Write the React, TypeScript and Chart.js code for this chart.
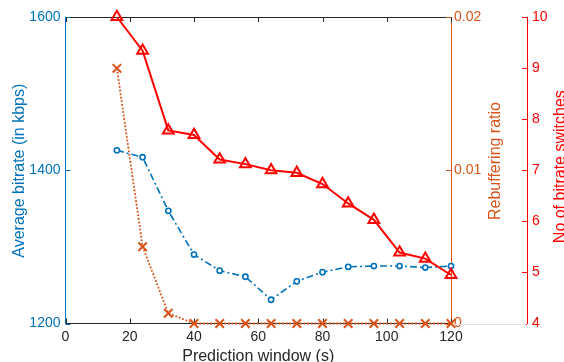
import React, { useEffect, useRef } from "react";
import { Chart, registerables } from "chart.js";

Chart.register(...registerables);

const windows = [16, 24, 32, 40, 48, 56, 64, 72, 80, 88, 96, 104, 112, 120];
const avgBitrate = [1426, 1417, 1347, 1290, 1269, 1261, 1231, 1255, 1267, 1274, 1275, 1275, 1273, 1275];
const rebufRatio = [0.01665, 0.00501, 0.00067, 0, 0, 0, 0, 0, 0, 0, 0, 0, 0, 0];
const switches = [10, 9.34, 7.78, 7.69, 7.21, 7.12, 7.0, 6.95, 6.73, 6.35, 6.03, 5.39, 5.27, 4.95];

const xTitle = "Prediction window (s)";
const yTitle = "Average bitrate (in kbps)";
const y1Title = "Rebuffering ratio";
const y2Title = "No of bitrate switches";

const BLUE = "#0072BD";
const ORANGE = "#D95319";
const RED = "#FF0000";
const DARK = "#262626";
const FONT = "'Liberation Sans', Arial, Helvetica, sans-serif";

const decorPlugin = {
  id: "decor",
  beforeDatasetsDraw(chart: any) {
    const { ctx, chartArea } = chart;
    const sx = chart.scales.x;
    const sy = chart.scales.y;
    const sy1 = chart.scales.y1;
    const sy2 = chart.scales.y2;
    const L = 5;
    ctx.save();
    ctx.lineWidth = 1;
    ctx.strokeStyle = DARK;
    ctx.beginPath();
    ctx.moveTo(chartArea.left, Math.round(chartArea.top) + 0.5);
    ctx.lineTo(chartArea.right, Math.round(chartArea.top) + 0.5);
    ctx.stroke();
    ctx.beginPath();
    sx.ticks.forEach((t: any) => {
      const px = Math.round(sx.getPixelForValue(t.value)) + 0.5;
      ctx.moveTo(px, chartArea.bottom);
      ctx.lineTo(px, chartArea.bottom - L);
      ctx.moveTo(px, chartArea.top);
      ctx.lineTo(px, chartArea.top + L);
    });
    ctx.stroke();
    ctx.strokeStyle = BLUE;
    ctx.beginPath();
    sy.ticks.forEach((t: any) => {
      const py = Math.round(sy.getPixelForValue(t.value)) + 0.5;
      ctx.moveTo(chartArea.left, py);
      ctx.lineTo(chartArea.left + L, py);
    });
    ctx.stroke();
    ctx.strokeStyle = ORANGE;
    ctx.beginPath();
    sy1.ticks.forEach((t: any) => {
      const py = Math.round(sy1.getPixelForValue(t.value)) + 0.5;
      ctx.moveTo(chartArea.right, py);
      ctx.lineTo(chartArea.right - L, py);
    });
    ctx.stroke();
    ctx.strokeStyle = RED;
    ctx.beginPath();
    sy2.ticks.forEach((t: any) => {
      const py = Math.round(sy2.getPixelForValue(t.value)) + 0.5;
      ctx.moveTo(sy2.left, py);
      ctx.lineTo(sy2.left - L, py);
    });
    ctx.stroke();
    ctx.strokeStyle = "#e3e3e3";
    ctx.beginPath();
    ctx.moveTo(chartArea.right + 1, Math.round(chartArea.bottom) + 0.5);
    ctx.lineTo(sy2.left - 1, Math.round(chartArea.bottom) + 0.5);
    ctx.stroke();
    ctx.restore();
  },
  afterDraw(chart: any) {
    const { ctx, chartArea } = chart;
    const sy2 = chart.scales.y2;
    ctx.save();
    ctx.font = `16px ${FONT}`;
    ctx.textAlign = "center";
    ctx.textBaseline = "alphabetic";
    ctx.fillStyle = DARK;
    ctx.fillText(xTitle, (chartArea.left + chartArea.right) / 2, 361);
    const rot = (text: string, x: number, y: number, color: string) => {
      ctx.save();
      ctx.translate(x, y);
      ctx.rotate(-Math.PI / 2);
      ctx.fillStyle = color;
      ctx.fillText(text, 0, 0);
      ctx.restore();
    };
    rot(yTitle, chartArea.left - 41.5, 170.7, BLUE);
    rot(y1Title, chartArea.right + 48.8, 161, ORANGE);
    rot(y2Title, sy2.left + 37.8, 166.7, RED);
    ctx.restore();
  },
};

export default function App() {
  const ref = useRef<HTMLCanvasElement | null>(null);
  useEffect(() => {
    if (!ref.current) return;
    Chart.defaults.font.family = FONT;
    const pts = (arr: number[]) => windows.map((x, i) => ({ x, y: arr[i] }));
    const plain = (v: any) => String(v);
    const chart = new Chart(ref.current, {
      type: "line",
      data: {
        datasets: [
          {
            label: "switches",
            data: pts(switches),
            yAxisID: "y2",
            borderColor: RED,
            backgroundColor: "rgba(0,0,0,0)",
            borderWidth: 2,
            pointStyle: "triangle",
            pointRadius: 6.2,
            pointBorderWidth: 2,
            pointBorderColor: RED,
            pointBackgroundColor: "rgba(0,0,0,0)",
            clip: false,
            order: 0,
          },
          {
            label: "bitrate",
            data: pts(avgBitrate),
            yAxisID: "y",
            borderColor: BLUE,
            backgroundColor: "#ffffff",
            borderWidth: 1.6,
            borderDash: [7, 3, 2, 3],
            pointStyle: "circle",
            pointRadius: 2.6,
            pointBorderWidth: 1.6,
            pointBorderColor: BLUE,
            pointBackgroundColor: "#ffffff",
            clip: false,
            order: 1,
          },
          {
            label: "rebuffering",
            data: pts(rebufRatio),
            yAxisID: "y1",
            borderColor: ORANGE,
            backgroundColor: "rgba(0,0,0,0)",
            borderWidth: 1.8,
            borderDash: [1.8, 1.8],
            pointStyle: "crossRot",
            pointRadius: 6,
            pointBorderWidth: 2,
            pointBorderColor: ORANGE,
            clip: false,
            order: 2,
          },
        ],
      },
      options: {
        animation: false,
        responsive: false,
        maintainAspectRatio: false,
        layout: { padding: { top: 17, left: 0, right: 0, bottom: 0 } },
        plugins: { legend: { display: false }, tooltip: { enabled: false } },
        elements: { line: { tension: 0 } },
        scales: {
          x: {
            type: "linear",
            position: "bottom",
            min: 0,
            max: 120,
            ticks: { stepSize: 20, color: DARK, font: { size: 14 }, padding: 5, maxRotation: 0, callback: plain },
            grid: { display: false, drawTicks: false },
            border: { display: true, color: DARK, width: 1 },
            afterFit: (s: any) => { s.height = 38.5; },
          },
          y: {
            type: "linear",
            position: "left",
            min: 1200,
            max: 1600,
            ticks: { stepSize: 200, color: BLUE, font: { size: 14 }, padding: 5, callback: plain },
            grid: { display: false, drawTicks: false },
            border: { display: true, color: BLUE, width: 1 },
            afterFit: (s: any) => { s.width = 65.5; },
          },
          y1: {
            type: "linear",
            position: "right",
            min: 0,
            max: 0.02,
            ticks: {
              stepSize: 0.01,
              color: ORANGE,
              font: { size: 14 },
              padding: 3,
              callback: (v: any) => (v === 0 ? "0" : Number(v).toFixed(2)),
            },
            grid: { display: false, drawTicks: false },
            border: { display: true, color: ORANGE, width: 1 },
            afterFit: (s: any) => { s.width = 76; },
          },
          y2: {
            type: "linear",
            position: "right",
            min: 4,
            max: 10,
            ticks: { stepSize: 1, color: RED, font: { size: 14 }, padding: 5, callback: plain },
            grid: { display: false, drawTicks: false },
            border: { display: true, color: RED, width: 1 },
            afterFit: (s: any) => { s.width = 48; },
          },
        },
      },
      plugins: [decorPlugin],
    } as any);
    return () => chart.destroy();
  }, []);
  return (
    <div style={{ position: "absolute", left: 0, top: 0, width: 564, height: 362, overflow: "hidden", background: "#fff" }}>
      <canvas ref={ref} width={575} height={362} style={{ display: "block", width: 575, height: 362 }} />
    </div>
  );
}
